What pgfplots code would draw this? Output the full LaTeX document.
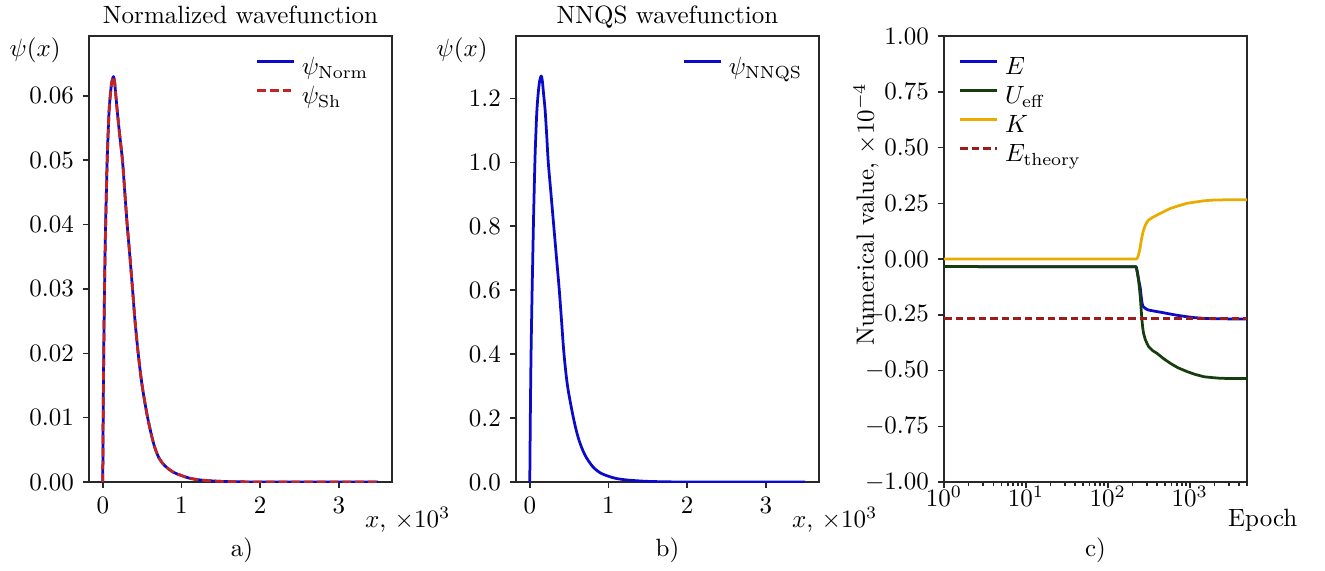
\documentclass[border=0pt]{standalone}
\usepackage{pgfplots}
\usepackage{pgfplotstable}
\pgfplotsset{compat=1.18}
\definecolor{cblue}{RGB}{10,10,200}
\definecolor{cred}{RGB}{195,35,35}
\definecolor{cgreen}{RGB}{22,62,12}
\definecolor{cgold}{RGB}{232,172,0}
\definecolor{axgray}{RGB}{40,40,40}

\pgfplotstableread{
x p
0 0
0.005 0.010
0.01 0.017
0.015 0.023
0.022 0.0298
0.03 0.036
0.04 0.042
0.056 0.050
0.07 0.0548
0.081 0.0578
0.098 0.0604
0.115 0.0622
0.136 0.0630
0.15 0.0622
0.162 0.0606
0.183 0.0578
0.21 0.0545
0.25 0.0500
0.28 0.0450
0.31 0.0400
0.345 0.0350
0.378 0.0300
0.41 0.0250
0.45 0.0200
0.50 0.0150
0.57 0.0100
0.65 0.0058
0.72 0.0036
0.80 0.0024
0.90 0.0015
1.00 0.0010
1.10 0.0006
1.25 0.0003
1.5 0.0001
1.8 0.00002
2.0 0
3.5 0
}\dataA

\pgfplotstableread{
x p
0 0
0.007 0.20
0.013 0.34
0.02 0.46
0.03 0.60
0.04 0.726
0.05 0.847
0.066 1.008
0.08 1.105
0.091 1.165
0.108 1.218
0.125 1.254
0.146 1.270
0.16 1.254
0.175 1.215
0.195 1.163
0.215 1.085
0.235 1.000
0.27 0.900
0.305 0.800
0.34 0.700
0.375 0.600
0.405 0.500
0.435 0.400
0.48 0.300
0.555 0.200
0.62 0.135
0.70 0.085
0.80 0.048
0.90 0.028
1.00 0.018
1.10 0.011
1.25 0.006
1.5 0.002
1.8 0.0004
2.0 0
3.5 0
}\dataB

\pgfplotstableread{
ep K E U
1 0 -0.034 -0.034
222 0 -0.035 -0.035
230 0.005 -0.06 -0.065
237 0.02 -0.09 -0.094
243 0.035 -0.11 -0.13
249 0.055 -0.13 -0.169
255 0.08 -0.165 -0.225
261 0.10 -0.195 -0.274
267 0.115 -0.21 -0.31
273 0.13 -0.215 -0.333
286 0.15 -0.221 -0.36
300 0.165 -0.226 -0.378
315 0.175 -0.229 -0.393
350 0.186 -0.232 -0.41
398 0.197 -0.236 -0.423
480 0.212 -0.241 -0.447
581 0.227 -0.247 -0.468
720 0.238 -0.253 -0.488
931 0.250 -0.259 -0.505
1150 0.255 -0.263 -0.517
1490 0.261 -0.266 -0.528
1900 0.264 -0.268 -0.532
2390 0.265 -0.268 -0.535
3500 0.266 -0.269 -0.536
5000 0.266 -0.269 -0.536
}\dataC

\pgfplotstableread{
ep E
1 -0.268
5000 -0.268
}\dataT

\pgfplotsset{
  myax/.style={
    scale only axis, width=121.2pt, height=178.4pt,
    axis line style={axgray, line width=0.8pt},
    tick align=outside, xtick pos=left, ytick pos=left,
    major tick length=2.5pt, minor tick length=1.5pt,
    every tick/.style={axgray, line width=0.6pt},
    legend cell align=left,
    legend style={draw=none, fill=none, inner sep=0pt, anchor=north west,
      column sep=1.5pt,
      nodes={inner sep=1pt, text height=7.5pt, text depth=2.1pt}},
    legend image code/.code={\draw[##1] (0pt,2.6pt) -- (14.8pt,2.6pt);},
    xlabel style={at={(axis description cs:1.052,-0.085)}, anchor=center},
    scaled y ticks=false, scaled x ticks=false,
  },
  psiax/.style={
    xmin=-0.175, xmax=3.675, ymin=0,
    xtick={0,1,2,3},
    xlabel={$x$, $\times10^3$},
    ylabel={$\psi(x)$},
    ylabel style={rotate=-90, at={(axis description cs:-0.178,0.969)}, anchor=center},
    legend style={at={(axis description cs:0.549,0.962)}},
  }
}

\begin{document}
\begin{tikzpicture}
\path[use as bounding box] (-35.6pt,-35.2pt) rectangle (494.4pt,192.8pt);

\begin{axis}[myax, psiax, at={(0pt,0pt)}, anchor=south west,
  ymax=0.0693,
  ytick={0,0.01,0.02,0.03,0.04,0.05,0.06},
  yticklabel style={/pgf/number format/.cd, fixed, fixed zerofill, precision=2},
  extra description/.code={
    \node at (0.505,-0.152) {a)};
    \node[anchor=base] at (0.5,1.028) {Normalized wavefunction};},
]
\addplot[cblue, line width=1.1pt, line join=round, smooth, tension=0.5] table[x=x,y=p]{\dataA};
\addlegendentry{$\psi_{\mathrm{Norm}}$}
\addplot[cred, line width=1.1pt, line join=round, smooth, tension=0.5, dash pattern=on 3.5pt off 1.6pt] table[x=x,y=p]{\dataA};
\addlegendentry{$\psi_{\mathrm{Sh}}$}
\end{axis}

\begin{axis}[myax, psiax, at={(170.8pt,0pt)}, anchor=south west,
  ymax=1.395,
  ytick={0,0.2,0.4,0.6,0.8,1.0,1.2},
  yticklabel style={/pgf/number format/.cd, fixed, fixed zerofill, precision=1},
  extra description/.code={
    \node at (0.5,-0.152) {b)};
    \node[anchor=base] at (0.5,1.028) {NNQS wavefunction};},
]
\addplot[cblue, line width=1.1pt, line join=round, smooth, tension=0.5] table[x=x,y=p]{\dataB};
\addlegendentry{$\psi_{\mathrm{NNQS}}$}
\end{axis}

\begin{axis}[myax, at={(342pt,0pt)}, anchor=south west,
  xmode=log, xmin=1, xmax=5000, ymin=-1, ymax=1,
  ytick={-1,-0.75,-0.5,-0.25,0,0.25,0.5,0.75,1},
  yticklabel style={/pgf/number format/.cd, fixed, fixed zerofill, precision=2},
  xticklabel style={yshift=4.5pt},
  xlabel={Epoch},
  ylabel={Numerical value, $\times10^{-4}$},
  ylabel style={at={(axis description cs:-0.257,0.6)}, anchor=center},
  legend style={at={(axis description cs:0.048,0.962)}},
  extra description/.code={\node at (0.5,-0.152) {c)};},
]
\addplot[cblue, line width=1.1pt, line join=round] table[x=ep,y=E]{\dataC};
\addlegendentry{$E$}
\addplot[cgreen, line width=1.1pt, line join=round] table[x=ep,y=U]{\dataC};
\addlegendentry{$U_{\mathrm{eff}}$}
\addplot[cgold, line width=1.1pt, line join=round] table[x=ep,y=K]{\dataC};
\addlegendentry{$K$}
\addplot[cred!80!black, line width=1.1pt, dash pattern=on 3pt off 1.6pt] table[x=ep,y=E]{\dataT};
\addlegendentry{$E_{\mathrm{theory}}$}
\end{axis}
\end{tikzpicture}
\end{document}
